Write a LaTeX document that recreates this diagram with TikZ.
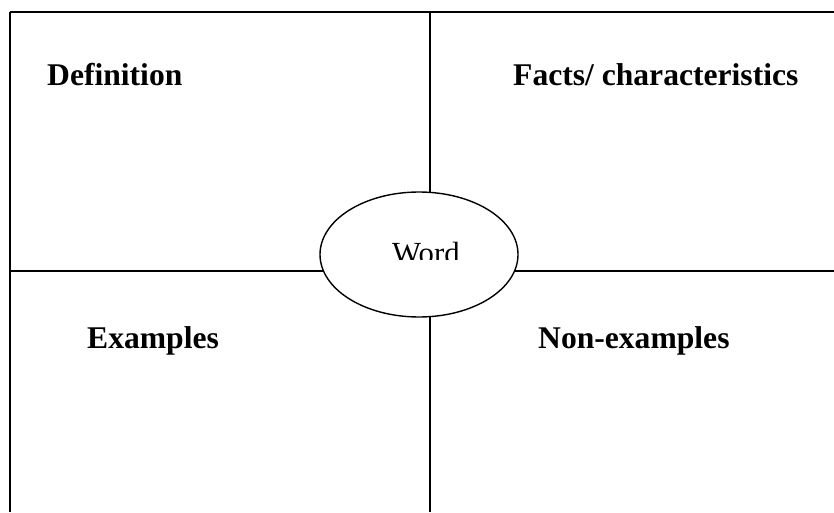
\documentclass[tikz,border=0pt]{standalone}
\usepackage{fontspec}
\setmainfont{Liberation Serif}
\usetikzlibrary{shapes.geometric}
\tikzset{
  gridline/.style={line width=1.5pt, black},
  heading/.style={anchor=base west, inner sep=0pt, font=\fontsize{31.6}{36}\selectfont\bfseries},
}

\begin{document}
\begin{tikzpicture}[x=1pt, y=1pt]
\useasboundingbox (0,0) rectangle (834,512);

% Frame corners and cross ends
\coordinate (tl) at (10,500);
\coordinate (tr) at (834,500);
\coordinate (bl) at (10,0);
\coordinate (ml) at (10,241);
\coordinate (mr) at (834,241);
\coordinate (tm) at (430,500);
\coordinate (bm) at (430,0);

% Frame and cross
\draw[gridline, line width=2pt] (tl) -- (tr);
\draw[gridline] (tl) -- (bl);
\draw[gridline] (ml) -- (mr);
\draw[gridline] (tm) -- (bm);

% Centre word
\node[ellipse, draw, fill=white, line width=1.4pt, minimum width=198pt, minimum height=125pt, inner sep=0pt] (word) at (419,257.5) {};
\begin{scope}
\clip (320,253) rectangle (518,320);
\node[anchor=base west, inner sep=0pt, font=\fontsize{30.7}{36}\selectfont] (wordtext) at (392,249) {Word};
\end{scope}

% Quadrant headings
\node[heading] (definition) at (47,426) {Definition};
\node[heading] (facts) at (513,426) {Facts/ characteristics};
\node[heading] (examples) at (87,164) {Examples};
\node[heading] (nonexamples) at (538,164) {Non-examples};
\end{tikzpicture}
\end{document}
